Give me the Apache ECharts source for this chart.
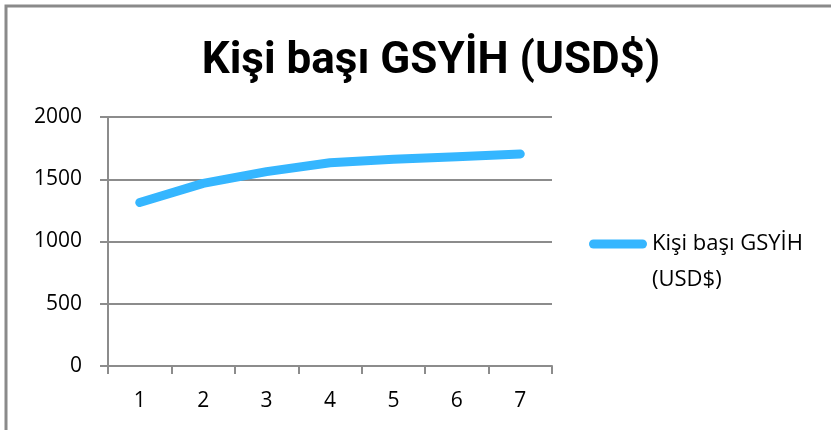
<!DOCTYPE html>
<html>
<head>
<meta charset="utf-8">
<script src="https://cdn.jsdelivr.net/npm/echarts@6/dist/echarts.min.js"></script>
<style>html,body{margin:0;padding:0;background:#fff;}#c{width:831px;height:430px;}</style>
</head>
<body>
<div id="c"></div>
<script>
const titleText = 'Kişi başı GSYİH (USD$)';
const seriesName = 'Kişi başı GSYİH (USD$)';
const legendLines = ['Kişi başı GSYİH', '(USD$)'];
const categories = ['1', '2', '3', '4', '5', '6', '7'];
const gdpValues = [1313, 1467, 1561, 1633, 1660, 1681, 1703];
const yMin = 0, yMax = 2000, yStep = 500;

const chart = echarts.init(document.getElementById('c'), null, {renderer: 'canvas'});
const gray = '#8c8c8c';
const txtFont = '"Open Sans", sans-serif';
chart.setOption({
  animation: false,
  backgroundColor: '#fff',
  graphic: [{
    type: 'rect', left: 3.5, top: 3.5, z: 100,
    shape: {width: 900, height: 500},
    style: {fill: 'none', stroke: '#8a8a8a', lineWidth: 3}
  }],
  title: {
    text: titleText, left: 426, top: 35, textAlign: 'center',
    textStyle: {fontFamily: 'Roboto, sans-serif', fontWeight: 'bold', fontSize: 44, color: '#000'}
  },
  grid: {left: 108, right: 279, top: 117, bottom: 64, containLabel: false},
  legend: {
    left: 589, top: 190, orient: 'vertical', padding: 0,
    icon: 'path://M4.5,0 h49 a4.5,4.5 0 0 1 0,9 h-49 a4.5,4.5 0 0 1 0,-9z',
    itemWidth: 58, itemHeight: 9, itemGap: 0,
    formatter: () => ' \n' + legendLines.join('\n'),
    textStyle: {fontFamily: txtFont, fontSize: 22, color: '#000', lineHeight: 36}
  },
  xAxis: {
    type: 'category', data: categories, boundaryGap: true,
    axisLine: {lineStyle: {color: gray, width: 2}},
    axisTick: {show: true, length: 8, lineStyle: {color: gray, width: 2}},
    axisLabel: {margin: 25, fontFamily: txtFont, fontSize: 21, color: '#000'}
  },
  yAxis: {
    type: 'value', min: yMin, max: yMax, interval: yStep,
    axisLine: {show: true, lineStyle: {color: gray, width: 2}},
    axisTick: {show: true, length: 8, lineStyle: {color: gray, width: 2}},
    splitLine: {lineStyle: {color: gray, width: 2}},
    axisLabel: {margin: 26, fontFamily: txtFont, fontSize: 21, color: '#000', formatter: v => String(v)}
  },
  series: [{
    name: seriesName, type: 'line', data: gdpValues,
    symbol: 'none', smooth: false,
    lineStyle: {color: '#35b6ff', width: 9, cap: 'round', join: 'round'},
    itemStyle: {color: '#35b6ff'}
  }]
});
</script>
</body>
</html>
